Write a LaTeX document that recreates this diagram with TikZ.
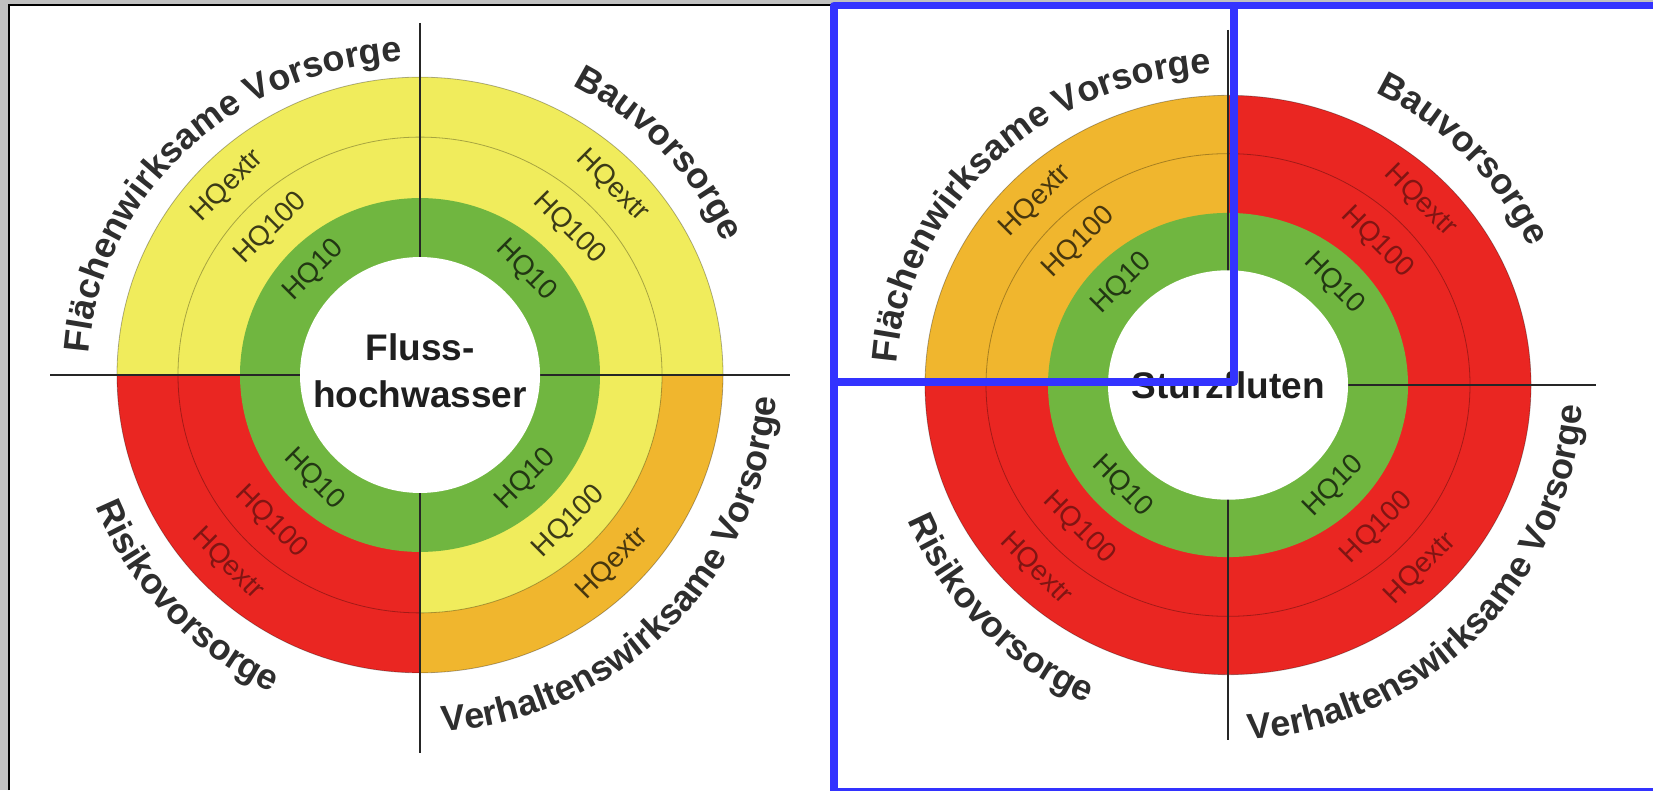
\documentclass[tikz,border=0pt]{standalone}
\usepackage{fontspec}
\setmainfont{Liberation Sans}
\usetikzlibrary{decorations.text}

\definecolor{hqgreen}{RGB}{112,182,64}
\definecolor{hqyellow}{RGB}{240,236,92}
\definecolor{hqorange}{RGB}{240,182,46}
\definecolor{hqred}{RGB}{234,38,34}
\definecolor{selblue}{RGB}{51,51,255}
\definecolor{wingray}{RGB}{192,192,192}

\newcommand{\outerfont}{\fontsize{36}{40}\selectfont\bfseries}
% one quarter of a ring chart: start angle, HQextr colour, HQ100 colour
\newcommand{\sector}[3]{%
  \fill[#2] (0,0) -- (#1:303) arc[start angle=#1, delta angle=90, radius=303] -- cycle;
  \fill[#3] (0,0) -- (#1:242) arc[start angle=#1, delta angle=90, radius=242] -- cycle;
}

\begin{document}
\begin{tikzpicture}[x=1pt,y=1pt,
    hq/.style={font=\fontsize{28}{30}\selectfont,inner sep=0pt},
    axis/.style={line width=2.8pt,black!85},
    ringline/.style={line width=.8pt,black,opacity=.3},
    centre/.style={font=\fontsize{37}{47}\selectfont\bfseries,text=black!88,align=center},
    arclabel/.style={decorate,
      decoration={text along path,text align=center,text color=black!82,text={|\outerfont|#1}}}]
\useasboundingbox (0,0) rectangle (1653,790);

% window
\fill[wingray] (0,0) rectangle (1653,790);
\fill[white] (9,0) rectangle (1653,785);
\draw[line width=2.5pt] (9,0) -- (9,785) -- (834,785);

\coordinate (fluss) at (420,415);
\coordinate (sturz) at (1228,405);

% Flusshochwasser
\begin{scope}[shift={(fluss)},yscale=.983]
  \sector{0}{hqyellow}{hqyellow}
  \sector{90}{hqyellow}{hqyellow}
  \sector{180}{hqred}{hqred}
  \sector{270}{hqorange}{hqyellow}
  \fill[hqgreen] (0,0) circle[radius=180];
  \draw[ringline] (0,0) circle[radius=242] (0,0) circle[radius=303];
\end{scope}
\draw[axis] ([yshift=352]fluss) -- ([yshift=-378]fluss);
\draw[axis] ([xshift=-370]fluss) -- ([xshift=370]fluss);
\begin{scope}[shift={(fluss)},yscale=.983]
  \fill[white] (0,0) circle[radius=120];
  \foreach \ang/\rot/\cx/\ch in {45/-45/hqyellow!25/hqyellow!25,135/45/hqyellow!25/hqyellow!25,
      225/-45/hqred!55/hqred!55,315/45/hqorange!30/hqyellow!25}{
    \node[hq,rotate=\rot,text=hqgreen!30!black] (fluss-hq10-\ang) at (\ang:150) {HQ10};
    \node[hq,rotate=\rot,text=\ch!black] (fluss-hq100-\ang) at (\ang:211) {HQ100};
    \node[hq,rotate=\rot,text=\cx!black] (fluss-hqx-\ang) at (\ang:272) {HQextr};
  }
\end{scope}
\node[centre,yshift=4] (fluss-text) at (fluss) {Fluss-\\hochwasser};

\path[arclabel={Flächenwirksame Vorsorge}] ([shift={(195:332 and 314)}]fluss) arc[start angle=195, end angle=75, x radius=332, y radius=314];
\path[arclabel=Bauvorsorge] ([shift={(103:332 and 326)}]fluss) arc[start angle=103, end angle=-17, x radius=332, y radius=326];
\path[arclabel=Risikovorsorge] ([shift={(163.5:350)}]fluss) arc[start angle=163.5, end angle=283.5, radius=350];
\path[arclabel={Verhaltenswirksame Vorsorge}] ([shift={(255:357)}]fluss) arc[start angle=255, end angle=375, radius=357];

% Sturzfluten
\begin{scope}[shift={(sturz)},yscale=.956]
  \sector{0}{hqred}{hqred}
  \sector{90}{hqorange}{hqorange}
  \sector{180}{hqred}{hqred}
  \sector{270}{hqred}{hqred}
  \fill[hqgreen] (0,0) circle[radius=180];
  \draw[ringline] (0,0) circle[radius=242] (0,0) circle[radius=303];
\end{scope}
\draw[axis] ([yshift=355]sturz) -- ([yshift=-355]sturz);
\draw[axis] ([xshift=-368]sturz) -- ([xshift=368]sturz);
\begin{scope}[shift={(sturz)},yscale=.956]
  \fill[white] (0,0) circle[radius=120];
  \foreach \ang/\rot/\cx in {45/-45/hqred!55,135/45/hqorange!30,225/-45/hqred!55,315/45/hqred!55}{
    \node[hq,rotate=\rot,text=hqgreen!30!black] (sturz-hq10-\ang) at (\ang:150) {HQ10};
    \node[hq,rotate=\rot,text=\cx!black] (sturz-hq100-\ang) at (\ang:211) {HQ100};
    \node[hq,rotate=\rot,text=\cx!black] (sturz-hqx-\ang) at (\ang:272) {HQextr};
  }
\end{scope}
\node[centre] (sturz-text) at (sturz) {Sturzfluten};

\path[arclabel={Flächenwirksame Vorsorge}] ([shift={(195:332 and 312)}]sturz) arc[start angle=195, end angle=75, x radius=332, y radius=312];
\path[arclabel=Bauvorsorge] ([shift={(104:332 and 326)}]sturz) arc[start angle=104, end angle=-16, x radius=332, y radius=326];
\path[arclabel=Risikovorsorge] ([shift={(164.5:348)}]sturz) arc[start angle=164.5, end angle=284.5, radius=348];
\path[arclabel={Verhaltenswirksame Vorsorge}] ([shift={(255:355)}]sturz) arc[start angle=255, end angle=375, radius=355];

% selection frames
\draw[selblue,line width=7.5pt,line join=round] (834,-1.5) rectangle (1665,784.5);
\draw[selblue,line width=8pt,line join=round] (834,408) -| (1234,784.5);
\end{tikzpicture}
\end{document}
